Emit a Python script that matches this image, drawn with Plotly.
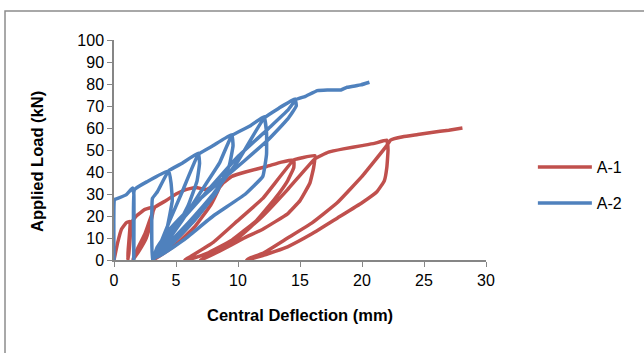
import plotly.graph_objects as go

# A-1 (red) load-deflection path: deflection (mm), load (kN)
a1_defl = [0, 0.3, 0.6, 1.0, 1.3,
           1.25, 1.15, 1.1,
           1.2, 1.3, 1.4, 1.8, 2.5, 3.2,
           3.0, 2.6, 2.0, 1.5,
           1.8, 2.5, 3.3, 4.2, 5.0, 5.8, 6.6, 7.4, 8.2, 8.8,
           8.5, 7.8, 6.5, 5.0, 4.0, 3.2,
           4.0, 5.5, 7.0, 8.8, 9.5, 10.6, 12.3, 13.5, 14.5,
           14.5, 14.0, 13.0, 11.5, 9.5, 7.5, 6.5, 5.7,
           6.0, 8.0, 10.0, 12.0, 14.5, 15.2, 16.2,
           16.1, 15.8, 15.0, 14.0, 12.0, 10.5, 8.5, 7.0,
           8.0, 10.0, 12.0, 14.0, 16.2, 17.3, 18.5, 20.0, 21.0, 22.0,
           22.1, 22.0, 21.8, 21.2, 20.0, 18.0, 16.0, 14.0, 12.0, 11.0, 10.7,
           11.0, 12.0, 14.0, 16.0, 18.0, 20.0, 22.0, 22.3,
           23.3, 24.5, 25.6, 27.0, 28.1]
a1_load = [0, 8, 14, 17, 17.5,
           12, 5, 0,
           3, 10, 17, 20, 23, 24,
           18, 10, 4, 0,
           4, 12, 24, 27, 30, 32, 33, 32, 34, 37,
           33, 25, 15, 7, 3, 0,
           4, 12, 22, 35, 38, 40, 42.5, 44.5, 45.5,
           42, 36, 28, 18, 9, 3, 1, 0,
           1, 8, 18, 28, 45.5, 46.5, 47.5,
           42, 35, 27, 21, 14, 10, 4, 0,
           3, 10, 20, 32, 46, 49, 50.5, 52, 53, 54.5,
           50, 42, 36, 31, 26, 19, 12, 6, 2, 0.5, 0,
           1, 3, 10, 17, 26, 38, 52, 54.5,
           56, 57, 58, 59, 60]

# A-2 (blue) load-deflection path
a2_defl = [0, 0.05, 0.3, 1.0, 1.5,
           1.6, 1.6, 1.65,
           2.7, 4.4,
           4.6, 4.7, 4.3, 3.8, 3.3, 3.1,
           3.1, 3.5, 4.4, 5.5, 6.8,
           6.9, 6.7, 6.0, 5.0, 4.0, 3.3, 3.2,
           3.5, 4.5, 5.5, 6.8, 8.0, 9.5,
           9.6, 9.3, 8.3, 6.5, 4.8, 3.5, 3.3,
           4.0, 5.5, 7.0, 8.5, 9.5, 11.0, 12.1,
           12.3, 12.3, 12.0, 10.6, 8.0, 5.6, 4.0, 3.3,
           4.0, 6.0, 8.0, 10.0, 12.1, 13.3, 14.6,
           14.7, 14.0, 12.5, 10.5, 8.0, 6.0, 4.5, 3.5, 3.3,
           4.5, 7.0, 10.0, 12.5, 14.0, 14.7,
           15.4, 16.4, 17.2, 18.3, 18.8, 19.9, 20.6]
a2_load = [0, 27.5, 28, 29.7, 32.7,
           30, 0, 32,
           35.7, 40.5,
           35, 27, 15, 6, 1, 0,
           28, 31, 40.5, 44, 48.6,
           44, 36, 25, 14, 6, 2, 0.5,
           4, 18, 31, 48, 52, 57,
           52, 43, 31, 18, 8, 2, 1,
           6, 18, 31, 44, 56.5, 61, 65.2,
           58, 48, 38, 30, 20, 9, 3, 1,
           5, 17, 30, 45, 64.5, 69, 73.2,
           70, 64, 55, 45, 33, 23, 14, 6, 3,
           12, 28, 47, 60, 68, 73,
           74.3, 77, 77.3, 77.3, 78.5, 79.6, 80.8]

x_ticks = [0, 5, 10, 15, 20, 25, 30]
y_ticks = [0, 10, 20, 30, 40, 50, 60, 70, 80, 90, 100]

RED = "#C0504D"
BLUE = "#4F81BD"
AXIS = "#868686"
FONT = "Liberation Sans"

fig = go.Figure()
fig.add_trace(go.Scatter(x=a1_defl, y=a1_load, mode="lines", name="A-1",
                         legendgroup="a1",
                         line=dict(color=RED, width=3.5, shape="spline", smoothing=0.3)))
fig.add_trace(go.Scatter(x=a2_defl, y=a2_load, mode="lines", name="A-2",
                         legendgroup="a2",
                         line=dict(color=BLUE, width=3.5, shape="spline", smoothing=0.3)))

fig.update_layout(
    width=644, height=353,
    margin=dict(l=114, r=158, t=40, b=93, autoexpand=False),
    paper_bgcolor="white", plot_bgcolor="white",
    font=dict(family=FONT, size=16, color="black"),
    showlegend=True,
    legend=dict(x=1.126, y=0.34, xanchor="left", yanchor="middle",
                font=dict(family=FONT, size=16), tracegroupgap=12,
                itemwidth=54, bgcolor="rgba(0,0,0,0)"),
    xaxis=dict(range=[0, 30], tickvals=x_ticks, ticks="outside", ticklen=5,
               tickcolor=AXIS, showline=True, linecolor=AXIS, linewidth=1.5,
               showgrid=False, zeroline=False, automargin=False),
    yaxis=dict(range=[0, 100], tickvals=y_ticks, ticks="outside", ticklen=5,
               tickcolor=AXIS, showline=True, linecolor=AXIS, linewidth=1.5,
               showgrid=False, zeroline=False, automargin=False),
    annotations=[
        dict(text="<b>Central Deflection (mm)</b>", xref="paper", yref="paper",
             x=(300 - 114) / 372, y=(260 - 315) / 220, xanchor="center", yanchor="middle",
             showarrow=False, font=dict(family=FONT, size=16.5)),
        dict(text="<b>Applied Load (kN)</b>", xref="paper", yref="paper",
             x=(37 - 114) / 372, y=(260 - 162) / 220, xanchor="center", yanchor="middle",
             textangle=-90, showarrow=False, font=dict(family=FONT, size=16.5)),
    ],
    shapes=[dict(type="rect", xref="paper", yref="paper",
                 x0=-0.293, y0=-0.5, x1=1.5, y1=1.132,
                 line=dict(color="#8C8C8C", width=1.5), fillcolor="rgba(0,0,0,0)",
                 layer="below")],
)

fig.write_html("out.html", config={"displayModeBar": False},
               post_script="document.body.style.margin='0px';document.body.style.overflow='hidden';")
